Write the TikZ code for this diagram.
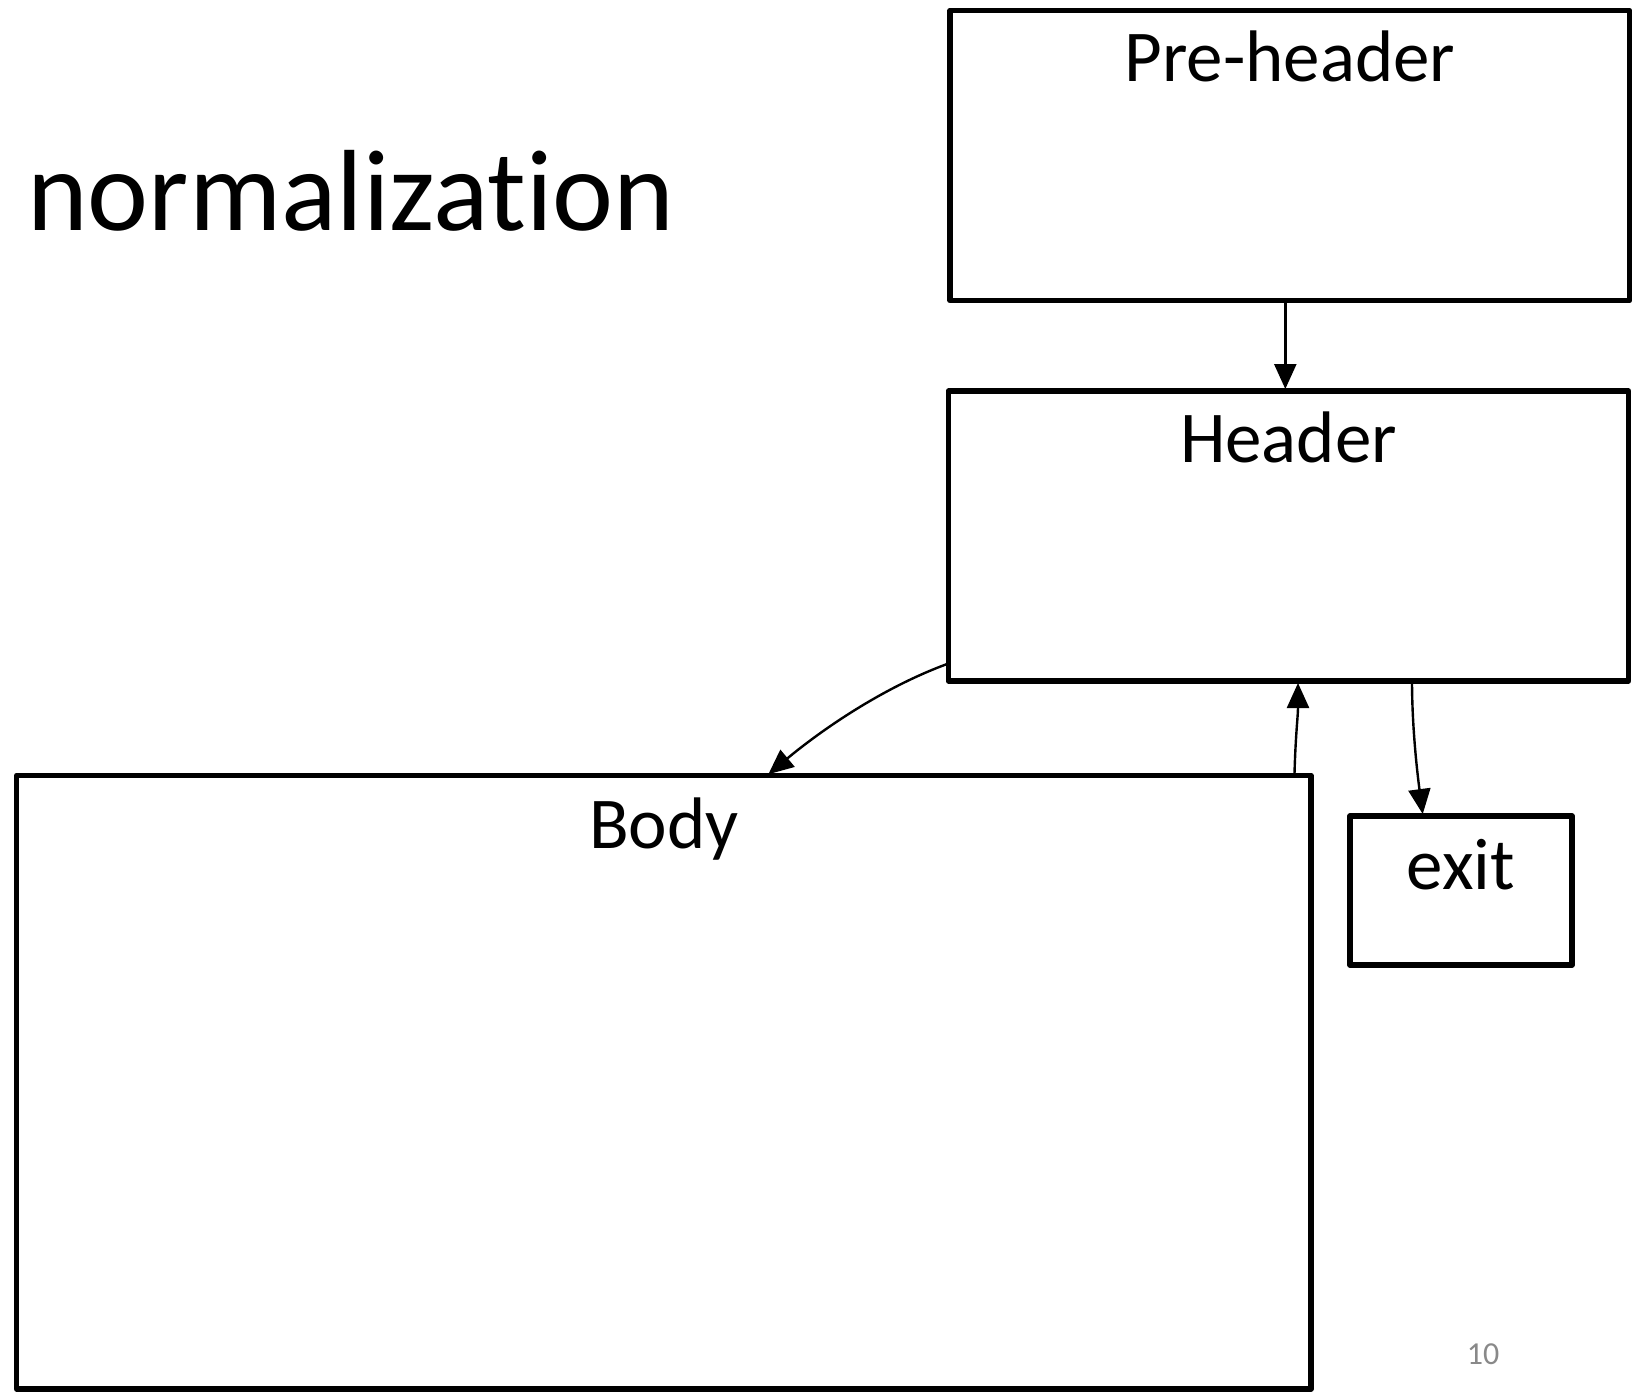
\documentclass[tikz,border=0pt]{standalone}
\usepackage{fontspec}
\setmainfont[Ligatures=NoCommon]{Carlito}
\usetikzlibrary{arrows.meta}
\definecolor{pgnum}{HTML}{898989}
\begin{document}
\begin{tikzpicture}[x=1pt,y=-1pt,
  box/.style={draw=black, line width=5.5pt, line join=round, rectangle, inner sep=0pt, outer sep=0pt, anchor=north west},
  lbl/.style={font=\fontsize{73}{80}\selectfont, anchor=base, inner sep=0pt},
  conn/.style={line width=2.4pt, shorten >=2pt, -{Triangle[length=25pt,width=22pt]}},
]
\useasboundingbox (0,0) rectangle (1641,1392);
\node[anchor=base west, inner sep=0pt, font=\fontsize{115.5}{120}\selectfont] (title) at (27,230) {normalization};

\node[box, minimum width=679.6pt, minimum height=290pt] (pre) at (950,10.5) {};
\node[box, minimum width=680pt, minimum height=290pt] (hdr) at (948.5,391) {};
\node[box, minimum width=1294.3pt, minimum height=613.5pt] (body) at (16.7,775.5) {};
\node[box, minimum width=222pt, minimum height=149pt] (exit) at (1350,816) {};

\node[lbl] (prel) at ([yshift=-71pt]pre.north) {Pre-header};
\node[lbl] (hdrl) at ([yshift=-71.5pt]hdr.north) {Header};
\node[lbl] (bodyl) at ([yshift=-72.5pt]body.north) {Body};
\node[lbl] (exitl) at ([yshift=-73.5pt]exit.north) {exit};

\node[anchor=base, inner sep=0pt, text=pgnum, font=\fontsize{32}{36}\selectfont] (pg) at (1483,1364) {10};

\draw[conn] ([xshift=-4.5pt]pre.south) -- ([xshift=-4.5pt]pre.south |- hdr.north);
\draw[conn] ([yshift=-127.5pt]hdr.west) .. controls +(-66,24) and +(54,-45) .. ([xshift=103pt]body.north);
\draw[conn] ([xshift=630.6pt]body.north) .. controls +(1,-40) and +(0,35) .. ([xshift=9.5pt]hdr.south);
\draw[conn] ([xshift=123.5pt]hdr.south) .. controls +(0,45) and +(-6,-45) .. ([xshift=-38pt]exit.north);
\end{tikzpicture}
\end{document}
